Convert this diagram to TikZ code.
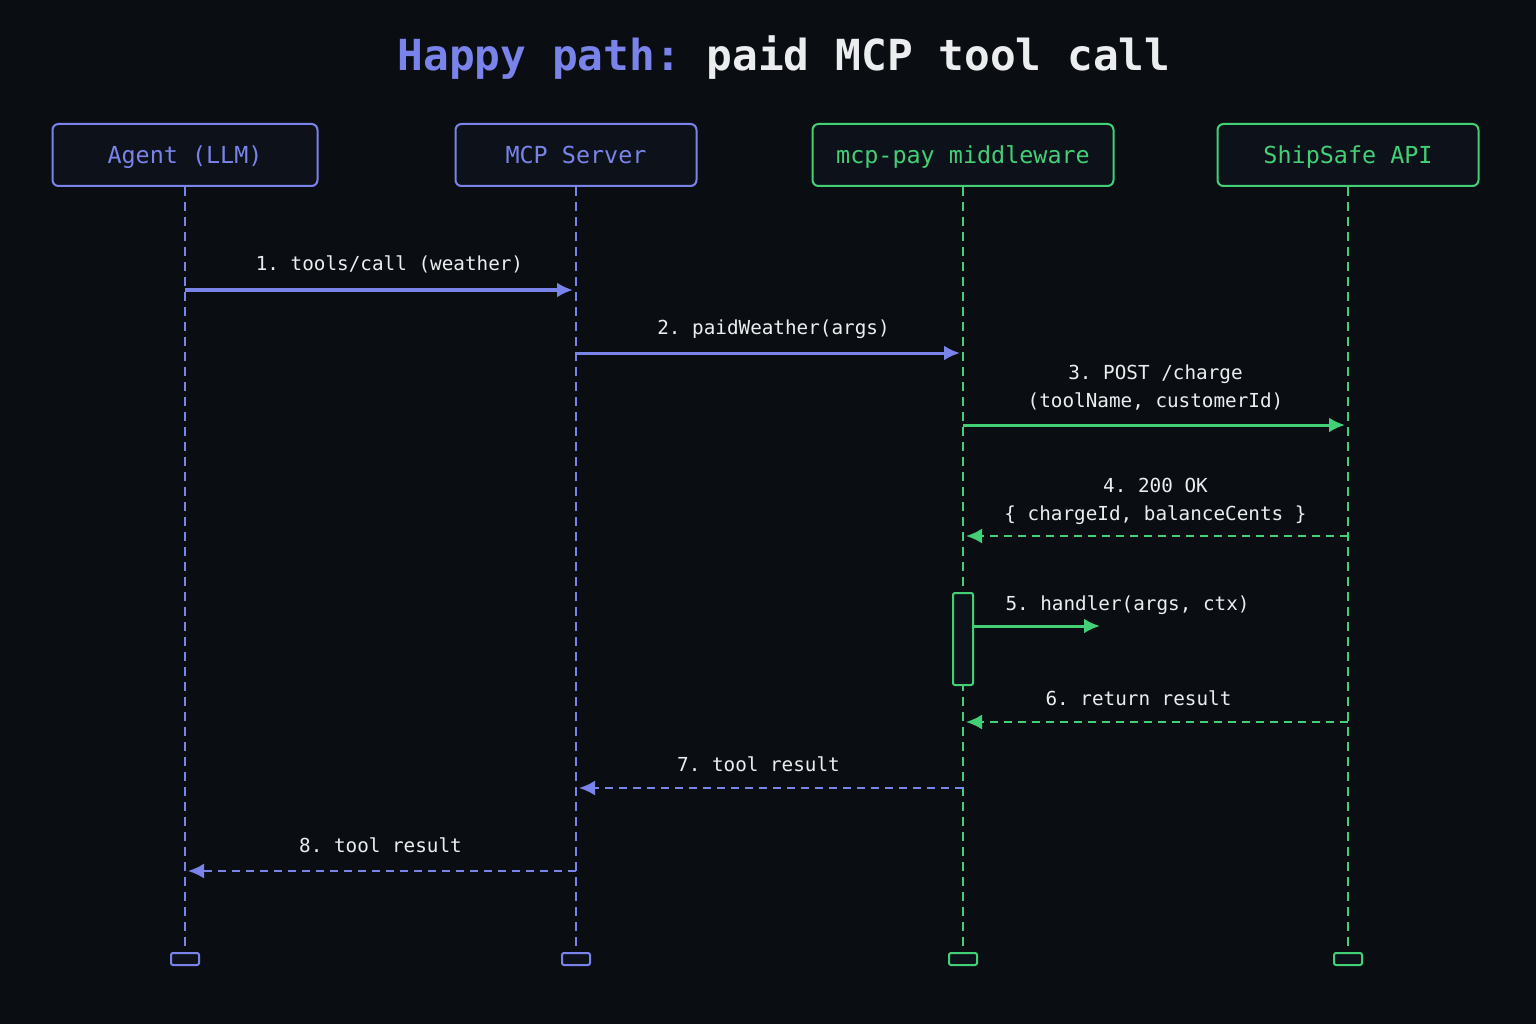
\documentclass[tikz,border=0pt]{standalone}
\usepackage{fontspec}
\setmonofont{DejaVu Sans Mono}
\usetikzlibrary{arrows.meta,positioning}
\definecolor{ink}{HTML}{0A0E13}
\definecolor{iris}{HTML}{7A83EA}
\definecolor{mint}{HTML}{42CF76}
\definecolor{chalk}{HTML}{ECEDEF}
\definecolor{boxbg}{HTML}{0D121A}

\begin{document}
\begin{tikzpicture}[
   x=1pt, y=-1pt,
   font=\ttfamily\fontsize{19.3}{28}\selectfont, text=chalk,
   actor/.style={draw=#1, text=#1, line width=2pt, rounded corners=6pt, fill=boxbg,
                 minimum height=62pt, inner sep=0pt, text height=19pt, text depth=2pt,
                 font=\ttfamily\fontsize{23.4}{28}\selectfont},
   stub/.style={draw=#1, line width=2pt, rounded corners=2pt, fill=boxbg,
                minimum width=28pt, minimum height=12pt, inner sep=0pt},
   life/.style={draw=#1, line width=1.6pt, dash pattern=on 9pt off 6pt},
   req/.style={-{Latex[length=16pt, width=15pt]}, line width=3pt, draw=#1, shorten >=3pt},
   reply/.style={-{Latex[length=16pt, width=15pt]}, line width=2.2pt, draw=#1,
                 dash pattern=on 8pt off 6pt, shorten >=3pt},
   lbl/.style={align=center, inner sep=0pt},
]
  \fill[ink] (0,0) rectangle (1536,1024);
  \useasboundingbox (0,0) rectangle (1536,1024);

  \node[font=\ttfamily\bfseries\fontsize{42.8}{50}\selectfont] (title) at (784,58)
       {\textcolor{iris}{Happy path:} paid MCP tool call};

  % participants
  \node[actor=iris, minimum width=265pt] (agent) at (185,155) {Agent (LLM)};
  \node[actor=iris, minimum width=241pt] (mcp)   at (576,155) {MCP Server};
  \node[actor=mint, minimum width=301pt] (pay)   at (963,155) {mcp-pay middleware};
  \node[actor=mint, minimum width=261pt] (ship)  at (1348,155) {ShipSafe API};

  \node[stub=iris] (agentEnd) at (185,959) {};
  \node[stub=iris] (mcpEnd)   at (576,959) {};
  \node[stub=mint] (payEnd)   at (963,959) {};
  \node[stub=mint] (shipEnd)  at (1348,959) {};

  \draw[life=iris] (agent) -- (agentEnd);
  \draw[life=iris] (mcp) -- (mcpEnd);
  \draw[life=mint] (pay) -- (payEnd);
  \draw[life=mint] (ship) -- (shipEnd);

  % messages
  \draw[req=iris] (agent |- 0,290) -- (mcp |- 0,290)
        node[lbl, midway, xshift=9pt, yshift=26pt] {1. tools/call (weather)};
  \draw[req=iris] (mcp |- 0,353) -- (pay |- 0,353)
        node[lbl, midway, xshift=4pt, yshift=24pt] {2. paidWeather(args)};
  \draw[req=mint] (pay |- 0,425) -- (ship |- 0,425)
        node[lbl, midway, yshift=37pt] {3. POST /charge\\(toolName, customerId)};
  \draw[reply=mint] (ship |- 0,536) -- (pay |- 0,536)
        node[lbl, midway, yshift=35pt] {4. 200 OK\\\{ chargeId, balanceCents \}};

  \node[draw=mint, line width=2pt, rounded corners=2pt, fill=boxbg,
        minimum width=20pt, minimum height=92pt, inner sep=0pt] (exec) at (963,639) {};
  \coordinate (execHit) at (1100,626);
  \draw[req=mint, shorten >=0pt] (exec.east |- execHit) -- (execHit)
        node[lbl, pos=0, anchor=west, xshift=30pt, yshift=21pt] {5. handler(args, ctx)};

  \draw[reply=mint] (ship |- 0,722) -- (pay |- 0,722)
        node[lbl, midway, xshift=-17pt, yshift=24pt] {6. return result};
  \draw[reply=iris] (pay |- 0,788) -- (mcp |- 0,788)
        node[lbl, midway, xshift=-11pt, yshift=24pt] {7. tool result};
  \draw[reply=iris] (mcp |- 0,871) -- (agent |- 0,871)
        node[lbl, midway, yshift=26pt] {8. tool result};
\end{tikzpicture}
\end{document}
